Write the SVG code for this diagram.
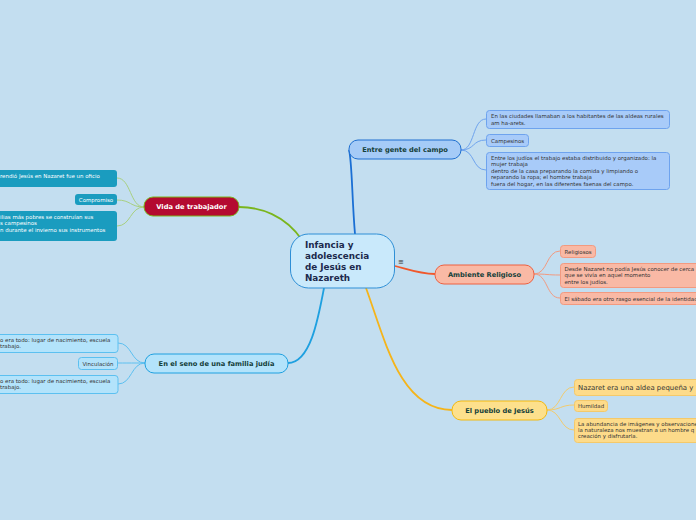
<svg xmlns="http://www.w3.org/2000/svg" width="696" height="520" viewBox="0 0 696 520">
<style>
text{font-family:"DejaVu Sans","Verdana",sans-serif;}
.main{font-size:6.7px;font-weight:bold;fill:#15403a;text-anchor:middle;}
.s{font-size:5.45px;fill:#333;}
.w{font-size:5.45px;fill:#fff;}
.c{fill:none;stroke-width:1;}
</style>
<rect width="696" height="520" fill="#c3def0"/>
<g id="connectors" fill="none">
<path d="M355 234 C352 200 352 160 349 150" stroke="#1a6fd4" stroke-width="1.8"/>
<path d="M395 266 C410 270 420 274 435 274" stroke="#f0582c" stroke-width="1.8"/>
<path d="M366 288 C385 340 400 410 452 410" stroke="#f5b41a" stroke-width="1.8"/>
<path d="M302 240 C285 215 260 207 239 207" stroke="#7ab51d" stroke-width="1.8"/>
<path d="M324 288 C318 320 310 363 288 363" stroke="#1ea0e0" stroke-width="1.8"/>
<g stroke="#6ea3ee" class="c">
<path d="M461 150 C475 150 472 119 486 119"/>
<path d="M461 150 C475 150 472 140 486 140"/>
<path d="M461 150 C475 150 472 170 486 170"/>
</g>
<g stroke="#f29a80" class="c">
<path d="M534 274 C548 274 546 251 560 251"/>
<path d="M534 274 C548 274 546 275 560 275"/>
<path d="M534 274 C548 274 546 298 560 298"/>
</g>
<g stroke="#f2cb6e" class="c">
<path d="M547 410 C561 410 560 387 574 387"/>
<path d="M547 410 C561 410 560 405 574 405"/>
<path d="M547 410 C561 410 560 430 574 430"/>
</g>
<g stroke="#a8d080" class="c">
<path d="M144 207 C130 207 131 178 117 178"/>
<path d="M144 207 C130 207 131 200 117 200"/>
<path d="M144 207 C130 207 131 226 117 226"/>
</g>
<g stroke="#5cc0f0" class="c">
<path d="M145 363 C131 363 132 343 118 343"/>
<path d="M145 363 C131 363 132 363 118 363"/>
<path d="M145 363 C131 363 132 384 118 384"/>
</g>
</g>
<g id="center">
<rect x="290.5" y="234" width="104" height="54" rx="18" fill="#c9e9fb" stroke="#2e8fd6" stroke-width="1"/>
<text x="305" y="248" font-size="8.8" font-weight="bold" fill="#1c2a4d">Infancia y</text>
<text x="305" y="259" font-size="8.8" font-weight="bold" fill="#1c2a4d">adolescencia</text>
<text x="305" y="270" font-size="8.8" font-weight="bold" fill="#1c2a4d">de Jesús en</text>
<text x="305" y="281" font-size="8.8" font-weight="bold" fill="#1c2a4d">Nazareth</text>
<text x="398" y="264" font-size="7" fill="#333">≡</text>
</g>
<g id="entre">
<rect x="349" y="140" width="112" height="19" rx="9" fill="#a5cbf7" stroke="#1e6fd0" stroke-width="1"/>
<text x="405" y="152" class="main">Entre gente del campo</text>
</g>
<g id="entre-1">
<rect x="486.5" y="110.5" width="183" height="18" rx="3" fill="#a8cbf9" stroke="#6ea3ee"/>
<text x="491" y="118" class="s">En las ciudades llamaban a los habitantes de las aldeas rurales</text>
<text x="491" y="124.5" class="s">am ha-arets.</text>
</g>
<g id="entre-2">
<rect x="486.5" y="134.5" width="42" height="12" rx="3" fill="#a8cbf9" stroke="#6ea3ee"/>
<text x="491" y="142.5" class="s">Campesinos</text>
</g>
<g id="entre-3">
<rect x="486.5" y="152.5" width="183" height="37" rx="3" fill="#a8cbf9" stroke="#6ea3ee"/>
<text x="491" y="160" class="s">Entre los judíos el trabajo estaba distribuido y organizado: la</text>
<text x="491" y="165.5" class="s">mujer trabaja</text>
<text x="491" y="173" class="s">dentro de la casa preparando la comida y limpiando o</text>
<text x="491" y="178.5" class="s">reparando la ropa; el hombre trabaja</text>
<text x="491" y="186" class="s">fuera del hogar, en las diferentes faenas del campo.</text>
</g>
<g id="ambiente">
<rect x="435" y="265" width="99" height="19" rx="9" fill="#f9b9a5" stroke="#ee6040" stroke-width="1"/>
<text x="484.5" y="277" class="main">Ambiente Religioso</text>
</g>
<g id="ambiente-1">
<rect x="560.5" y="245.5" width="35" height="12" rx="3" fill="#f9b9a5" stroke="#f29a80"/>
<text x="564.5" y="253.5" class="s">Religiosos</text>
</g>
<g id="ambiente-2">
<rect x="560.5" y="263.5" width="145" height="24" rx="3" fill="#f9b9a5" stroke="#f29a80"/>
<text x="564.5" y="271" class="s">Desde Nazaret no podía Jesús conocer de cerca</text>
<text x="564.5" y="276.5" class="s">que se vivía en aquel momento</text>
<text x="564.5" y="284" class="s">entre los judíos.</text>
</g>
<g id="ambiente-3">
<rect x="560.5" y="292.5" width="145" height="12" rx="3" fill="#f9b9a5" stroke="#f29a80"/>
<text x="564.5" y="300.5" class="s">El sábado era otro rasgo esencial de la identidad</text>
</g>
<g id="pueblo">
<rect x="452" y="401" width="95" height="19" rx="9" fill="#fde08c" stroke="#f4b90e" stroke-width="1"/>
<text x="499.5" y="413" class="main">El pueblo de Jesús</text>
</g>
<g id="pueblo-1">
<rect x="574.5" y="379.5" width="130" height="16" rx="3" fill="#fddb8a" stroke="#f4c96a"/>
<text x="578" y="390" font-size="6.9" fill="#333">Nazaret era una aldea pequeña y</text>
</g>
<g id="pueblo-2">
<rect x="574.5" y="400.5" width="33" height="11" rx="3" fill="#fddb8a" stroke="#f4c96a"/>
<text x="578" y="408" class="s">Humildad</text>
</g>
<g id="pueblo-3">
<rect x="574.5" y="418.5" width="130" height="24" rx="3" fill="#fddb8a" stroke="#f4c96a"/>
<text x="578" y="426" class="s">La abundancia de imágenes y observaciones</text>
<text x="578" y="432" class="s">la naturaleza nos muestran a un hombre q</text>
<text x="578" y="438" class="s">creación y disfrutarla.</text>
</g>
<g id="vida">
<rect x="144" y="197" width="95" height="19" rx="9" fill="#b40a30" stroke="#7ab51d" stroke-width="1"/>
<text x="191.5" y="209" class="main" style="fill:#fff">Vida de trabajador</text>
</g>
<g id="vida-1">
<rect x="-10" y="170" width="127" height="17" rx="3" fill="#1a9cbf"/>
<text x="0" y="177.5" class="w">rendió Jesús en Nazaret fue un oficio</text>
</g>
<g id="vida-2">
<rect x="75" y="194" width="42" height="11" rx="3" fill="#1a9cbf"/>
<text x="96" y="201.5" class="w" text-anchor="middle">Compromiso</text>
</g>
<g id="vida-3">
<rect x="-10" y="211" width="127" height="30" rx="3" fill="#1a9cbf"/>
<text x="0" y="218.5" class="w">ilias más pobres se construían sus</text>
<text x="0" y="224.5" class="w">s campesinos</text>
<text x="0" y="231.5" class="w">n durante el invierno sus instrumentos</text>
</g>
<g id="familia">
<rect x="145" y="354" width="143" height="19" rx="9" fill="#b3e3fb" stroke="#1ea0e0" stroke-width="1"/>
<text x="216.5" y="366" class="main">En el seno de una familia judía</text>
</g>
<g id="familia-1">
<rect x="-10" y="334.5" width="128" height="18" rx="3" fill="#b3e3fb" stroke="#5cc0f0"/>
<text x="0" y="341.5" class="s">o era todo: lugar de nacimiento, escuela</text>
<text x="0" y="347.5" class="s">trabajo.</text>
</g>
<g id="familia-2">
<rect x="78.5" y="357.5" width="39" height="12" rx="3" fill="#b3e3fb" stroke="#5cc0f0"/>
<text x="98" y="365.5" class="s" text-anchor="middle">Vinculación</text>
</g>
<g id="familia-3">
<rect x="-10" y="375.5" width="128" height="18" rx="3" fill="#b3e3fb" stroke="#5cc0f0"/>
<text x="0" y="383" class="s">o era todo: lugar de nacimiento, escuela</text>
<text x="0" y="389" class="s">trabajo.</text>
</g>
</svg>
